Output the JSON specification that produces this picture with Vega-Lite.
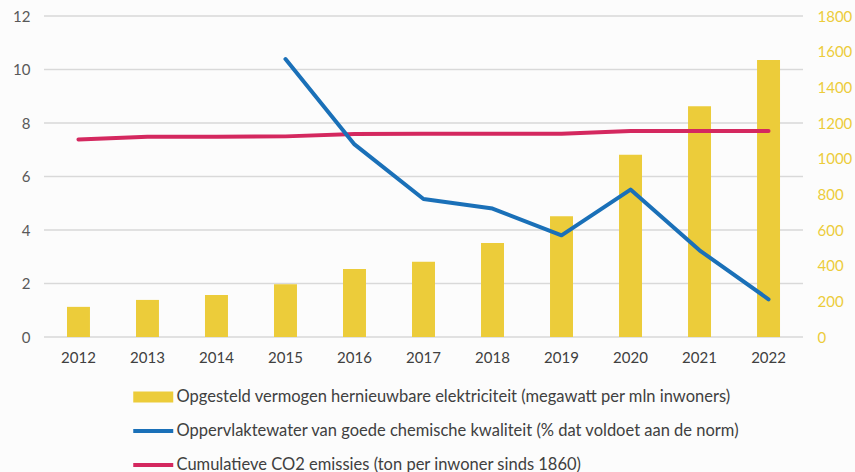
{
  "$schema": "https://vega.github.io/schema/vega-lite/v6.json",
  "autosize": {"type": "none"},
  "padding": {"left": 44, "top": 16, "right": 52, "bottom": 135},
  "width": 759,
  "height": 321,
  "background": "#fcfcfc",
  "config": {
    "font": "Lato",
    "view": {"stroke": "transparent"},
    "axis": {"labelFont": "Lato", "labelFontSize": 15, "labelColor": "#595959", "ticks": false, "domain": false, "title": null}
  },
  "data": {
    "values": [
      {"year": "2012", "bar": 169, "water": null, "co2": 1108},
      {"year": "2013", "bar": 208, "water": null, "co2": 1123},
      {"year": "2014", "bar": 236, "water": null, "co2": 1123},
      {"year": "2015", "bar": 296, "water": 10.39, "co2": 1125},
      {"year": "2016", "bar": 381, "water": 7.2, "co2": 1138},
      {"year": "2017", "bar": 422, "water": 5.16, "co2": 1140},
      {"year": "2018", "bar": 527, "water": 4.8, "co2": 1140},
      {"year": "2019", "bar": 677, "water": 3.8, "co2": 1140},
      {"year": "2020", "bar": 1022, "water": 5.51, "co2": 1155},
      {"year": "2021", "bar": 1294, "water": 3.24, "co2": 1155},
      {"year": "2022", "bar": 1553, "water": 1.41, "co2": 1155}
    ]
  },
  "encoding": {
    "x": {
      "field": "year", "type": "ordinal",
      "scale": {"paddingInner": 0.667, "paddingOuter": 0.333},
      "axis": {"labelAngle": 0, "labelPadding": 13, "labelColor": "#404040", "grid": false}
    }
  },
  "layer": [
    {
      "mark": {"type": "rule", "color": "#d9d9d9", "strokeWidth": 1.5},
      "data": {"values": [{"v": 0}, {"v": 2}, {"v": 4}, {"v": 6}, {"v": 8}, {"v": 10}, {"v": 12}]},
      "encoding": {
        "x": null,
        "y": {"field": "v", "type": "quantitative", "scale": {"domain": [0, 12]}, "axis": {"values": [0, 2, 4, 6, 8, 10, 12], "labelPadding": 14, "grid": false}}
      }
    },
    {
      "mark": {"type": "bar", "color": "#ECCC3A"},
      "encoding": {
        "y": {"field": "bar", "type": "quantitative", "scale": {"domain": [0, 1800]}, "axis": {"orient": "right", "values": [0, 200, 400, 600, 800, 1000, 1200, 1400, 1600, 1800], "format": "d", "labelColor": "#ECCC3A", "labelPadding": 14, "grid": false, "domain": false, "ticks": false}},
        "color": {
          "datum": "Opgesteld vermogen hernieuwbare elektriciteit (megawatt per mln inwoners)",
          "scale": {
            "domain": ["Opgesteld vermogen hernieuwbare elektriciteit (megawatt per mln inwoners)", "Oppervlaktewater van goede chemische kwaliteit (% dat voldoet aan de norm)", "Cumulatieve CO2 emissies (ton per inwoner sinds 1860)"],
            "range": ["#ECCC3A", "#1A70B8", "#D4285F"]
          },
          "legend": {
            "orient": "none", "legendX": 89, "legendY": 373, "direction": "vertical", "title": null,
            "padding": 0, "symbolType": "stroke", "symbolSize": 1600, "symbolStrokeWidth": 4, "symbolOffset": 12,
            "clipHeight": 16,
            "labelFont": "Lato", "labelFontSize": 16.5, "labelColor": "#404040", "labelLimit": 0, "labelOffset": 15, "rowPadding": 17,
            "encode": {"symbols": {"update": {"strokeWidth": {"signal": "datum.index == 0 ? 11 : 4"}, "stroke": {"scale": "color", "field": "value"}}}}
          }
        }
      }
    },
    {
      "mark": {"type": "line", "strokeWidth": 4, "strokeCap": "round", "strokeJoin": "round"},
      "encoding": {
        "y": {"field": "co2", "type": "quantitative", "scale": {"domain": [0, 1800]}, "axis": null},
        "color": {"datum": "Cumulatieve CO2 emissies (ton per inwoner sinds 1860)"}
      }
    },
    {
      "mark": {"type": "line", "strokeWidth": 4, "strokeCap": "round", "strokeJoin": "round"},
      "encoding": {
        "y": {"field": "water", "type": "quantitative", "scale": {"domain": [0, 12]}, "axis": null},
        "color": {"datum": "Oppervlaktewater van goede chemische kwaliteit (% dat voldoet aan de norm)"}
      }
    }
  ],
  "resolve": {"scale": {"y": "independent"}}
}
